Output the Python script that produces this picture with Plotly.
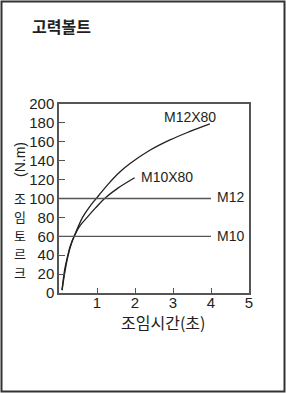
import plotly.graph_objects as go

# data
m12x80_t = [0.08, 0.15, 0.22, 0.3, 0.41, 0.62, 0.8, 0.98, 1.29, 1.6, 1.87, 2.39, 2.92, 3.45, 3.97]
m12x80_v = [3, 21, 36, 49, 61, 80, 91, 100, 115, 128, 137, 151, 162, 171, 179]
m10x80_t = [0.08, 0.15, 0.22, 0.3, 0.41, 0.55, 0.74, 0.95, 1.2, 1.55, 1.99]
m10x80_v = [3, 25, 38, 50, 61, 71, 80, 89.5, 100, 111, 122]
m12_t = [0, 4]
m12_v = [100, 100]
m10_t = [0, 4]
m10_v = [60, 60]
x_ticks = [1, 2, 3, 4, 5]
y_ticks = list(range(0, 201, 20))

FONT = "Liberation Sans, Arial, sans-serif"
KFONT = "Noto Sans CJK KR, sans-serif"
TXT = "#231f20"

fig = go.Figure()
fig.add_trace(go.Scatter(x=m12x80_t, y=m12x80_v, mode="lines", line=dict(color="#231f20", width=1.3, shape="spline", smoothing=1.0)))
fig.add_trace(go.Scatter(x=m10x80_t, y=m10x80_v, mode="lines", line=dict(color="#231f20", width=1.3, shape="spline", smoothing=1.0)))
fig.add_trace(go.Scatter(x=m12_t, y=m12_v, mode="lines", line=dict(color="#555555", width=1.3)))
fig.add_trace(go.Scatter(x=m10_t, y=m10_v, mode="lines", line=dict(color="#555555", width=1.3)))

W, H = 286, 393
L, R, T, B = 59, 249, 104, 293
pw, ph = R - L, B - T

def px(xp):
    return (xp - L) / pw

def py(yp):
    return (B - yp) / ph

anns = [
    dict(text="고력볼트", x=px(30), y=py(26), xanchor="left", yanchor="middle",
         font=dict(family=KFONT, size=16, color=TXT, weight="bold")),
    dict(text="조임시간(초)", x=px(163), y=py(322), xanchor="center", yanchor="middle",
         font=dict(family=KFONT, size=16, color=TXT)),
    dict(text="(N.m)", x=px(20), y=py(160), textangle=-90, xanchor="center", yanchor="middle",
         font=dict(family=FONT, size=14, color=TXT)),
    dict(text="M12X80", x=px(190), y=py(117), xanchor="center", yanchor="middle",
         font=dict(family=FONT, size=14, color=TXT)),
    dict(text="M10X80", x=px(139), y=py(177), xanchor="left", yanchor="middle",
         font=dict(family=FONT, size=14, color=TXT)),
    dict(text="M12", x=px(215), y=py(197), xanchor="left", yanchor="middle",
         font=dict(family=FONT, size=14, color=TXT)),
    dict(text="M10", x=px(215), y=py(236), xanchor="left", yanchor="middle",
         font=dict(family=FONT, size=14, color=TXT)),
]
for i, ch in enumerate("조임토르크"):
    anns.append(dict(text=ch, x=px(20), y=py(198 + i * 18.5), xanchor="center", yanchor="middle",
                     font=dict(family=KFONT, size=13, color=TXT)))
for a in anns:
    a.setdefault("xref", "paper")
    a.setdefault("yref", "paper")
    a["showarrow"] = False

fig.update_layout(
    width=W, height=H,
    margin=dict(l=L, r=W - R, t=T, b=H - B, pad=0),
    paper_bgcolor="white", plot_bgcolor="white",
    showlegend=False,
    annotations=anns,
    shapes=[dict(type="rect", xref="paper", yref="paper",
                 x0=px(1.5), x1=px(284.5), y0=py(391.5), y1=py(1.5),
                 line=dict(color="#333333", width=2))],
    xaxis=dict(range=[0, 5], tickvals=x_ticks, ticks="inside", ticklen=5, tickcolor="#555555",
               showline=True, linecolor="#555555", linewidth=1.5, mirror=True, showgrid=False,
               zeroline=False, ticklabelstandoff=-5, tickfont=dict(family=FONT, size=15, color=TXT)),
    yaxis=dict(range=[0, 200], tickvals=y_ticks, ticks="inside", ticklen=6, tickcolor="#555555",
               showline=True, linecolor="#555555", linewidth=1.5, mirror=True, showgrid=False,
               zeroline=False, tickfont=dict(family=FONT, size=15, color=TXT)),
)
fig.write_html("out.html", config={"displayModeBar": False},
               post_script="document.body.style.margin='0';document.body.style.padding='0';")
